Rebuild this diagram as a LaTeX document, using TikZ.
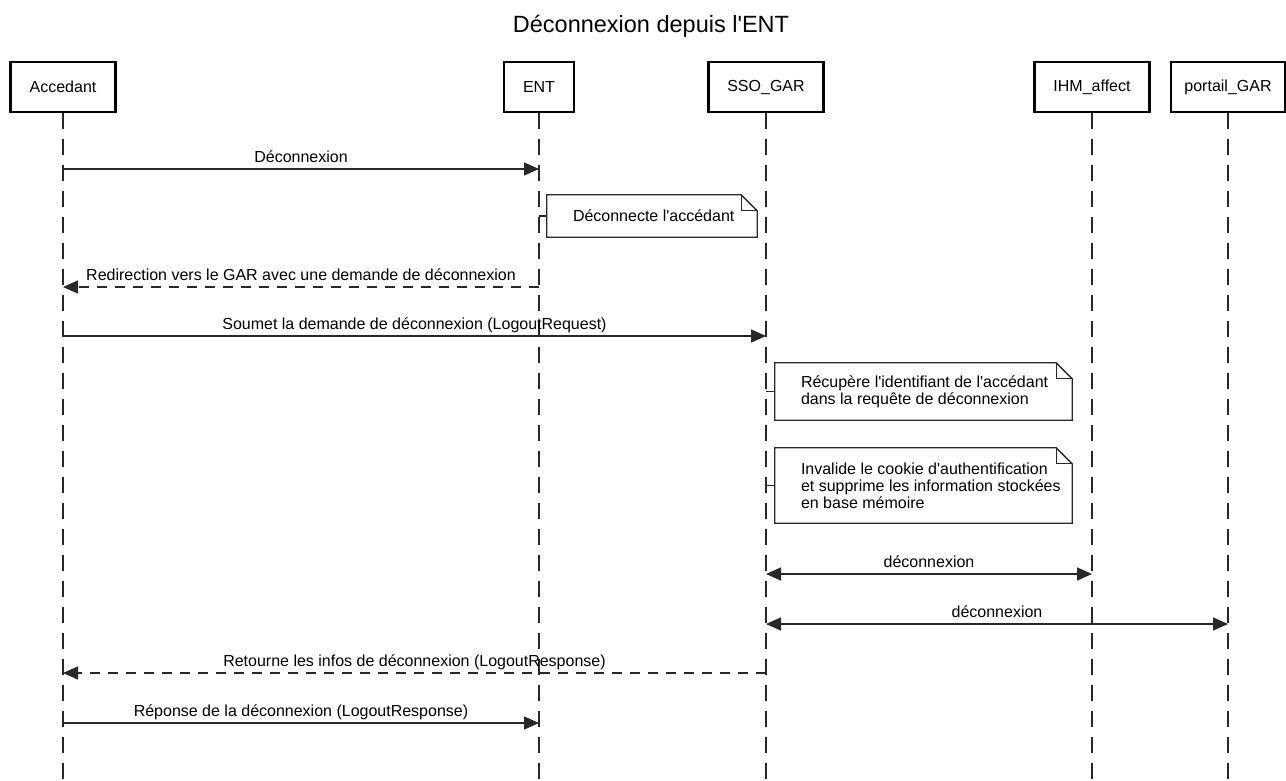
\documentclass[tikz,border=0pt]{standalone}
\usepackage{fontspec}
\setmainfont{Liberation Sans}[Ligatures=TeXOff]
\usepackage{tikz}
\usetikzlibrary{arrows.meta,positioning,calc}
\definecolor{linegray}{RGB}{40,40,40}

\begin{document}
\begin{tikzpicture}[
    x=1pt, y=-1pt,
    actor/.style={rectangle, draw=black, line width=2.5pt, minimum height=50pt, inner xsep=19pt, font=\fontsize{16}{19}\selectfont},
    lifeline/.style={draw=linegray, line width=1.3pt, dash pattern=on 16pt off 10pt},
    msg/.style={draw=linegray, line width=1.5pt, -{Triangle[length=15pt,width=13pt]}},
    reply/.style={msg, dash pattern=on 10pt off 8pt},
    both/.style={msg, {Triangle[length=15pt,width=13pt]}-{Triangle[length=15pt,width=13pt]}},
    lbl/.style={anchor=base, yshift=7pt, inner sep=0pt, font=\fontsize{16}{19}\selectfont},
    notebox/.style={rectangle, inner sep=0pt},
    notetext/.style={anchor=west, align=left, inner sep=0pt, font=\fontsize{16}{17}\selectfont},
    noteline/.style={draw=linegray, line width=1.3pt}
]
    \useasboundingbox (0,0) rectangle (1286,780);

    % Title
    \node[anchor=base, font=\fontsize{23.5}{28}\selectfont] (title) at (651,32) {Déconnexion depuis l'ENT};

    % Participants
    \node[actor] (accedant) at (63,87) {Accedant};
    \node[actor] (ent) at (539,87) {ENT};
    \node[actor] (ssogar) at (766,87) {SSO\_GAR};
    \node[actor] (ihm) at (1092,87) {IHM\_affect};
    \node[actor, inner xsep=13.5pt] (portail) at (1228,87) {portail\_GAR};

    % Lifelines
    \coordinate (bottom) at (0,780);
    \foreach \p in {accedant,ent,ssogar,ihm,portail}
        \draw[lifeline] (\p.south) -- (\p |- bottom);

    % Message rows
    \coordinate (m1) at (0,169);
    \coordinate (m2) at (0,287);
    \coordinate (m3) at (0,336);
    \coordinate (m4) at (0,574);
    \coordinate (m5) at (0,624);
    \coordinate (m6) at (0,673);
    \coordinate (m7) at (0,723);

    % Notes
    \node[notebox, minimum width=210pt, minimum height=42pt] (note1) at (652,216) {};
    \node[notetext] (note1-text) at ([xshift=26pt]note1.west) {Déconnecte l'accédant};

    \node[notebox, minimum width=297pt, minimum height=57pt] (note2) at (923.5,391.5) {};
    \node[notetext] (note2-text) at ([xshift=26pt]note2.west) {Récupère l'identifiant de l'accédant\\dans la requête de déconnexion};

    \node[notebox, minimum width=297pt, minimum height=75pt] (note3) at (923.5,485.5) {};
    \node[notetext] (note3-text) at ([xshift=26pt]note3.west) {Invalide le cookie d'authentification\\et supprime les information stockées\\en base mémoire};

    \foreach \n in {note1,note2,note3} {
        \draw[noteline] (\n.south west) -- (\n.north west) -- ([xshift=-16pt]\n.north east) -- ([yshift=-16pt]\n.north east) -- (\n.south east) -- cycle;
        \draw[noteline] ([xshift=-16pt]\n.north east) |- ([yshift=-16pt]\n.north east);
    }

    % Note links
    \draw[noteline] (ent |- note1.west) -- (note1.west);
    \draw[noteline] (ssogar |- note2.west) -- (note2.west);
    \draw[noteline] (ssogar |- note3.west) -- (note3.west);

    % Messages
    \draw[msg] (accedant |- m1) -- node[lbl] {Déconnexion} (ent |- m1);
    \draw[reply] (ent |- m2) -- node[lbl] {Redirection vers le GAR avec une demande de déconnexion} (accedant |- m2);
    \draw[msg] (accedant |- m3) -- node[lbl] {Soumet la demande de déconnexion (LogoutRequest)} (ssogar |- m3);
    \draw[both] (ssogar |- m4) -- node[lbl] {déconnexion} (ihm |- m4);
    \draw[both] (ssogar |- m5) -- node[lbl] {déconnexion} (portail |- m5);
    \draw[reply] (ssogar |- m6) -- node[lbl] {Retourne les infos de déconnexion (LogoutResponse)} (accedant |- m6);
    \draw[msg] (accedant |- m7) -- node[lbl] {Réponse de la déconnexion (LogoutResponse)} (ent |- m7);
\end{tikzpicture}
\end{document}
